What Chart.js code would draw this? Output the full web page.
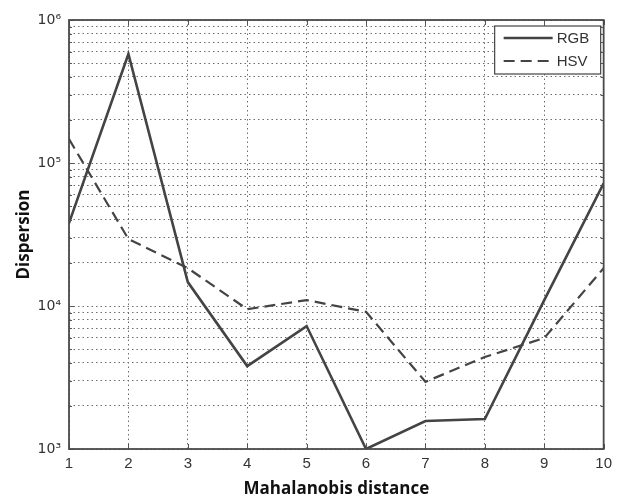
<!DOCTYPE html>
<html>
<head>
<meta charset="utf-8">
<script src="https://cdn.jsdelivr.net/npm/chart.js@4.4.1/dist/chart.umd.min.js"></script>
<style>
    body { margin: 0; background: #ffffff; }
    #wrap { width: 618px; height: 499px; position: relative; }
</style>
</head>
<body>
<div id="wrap"><canvas id="mychart"></canvas></div>
<script>
// data
let distance = [1, 2, 3, 4, 5, 6, 7, 8, 9, 10];
let rgbDispersion = [38000, 578000, 14700, 3800, 7240, 1000, 1570, 1620, 11000, 72000];
let hsvDispersion = [147000, 29400, 18400, 9500, 11000, 9100, 2950, 4400, 5970, 18400];
let yDecades = [3, 4, 5, 6];
let supDigits = { 3: '\u00b3', 4: '\u2074', 5: '\u2075', 6: '\u2076' };

function toPoints(values) {
    let pts = [];
    for (let i in distance) {
        pts.push({ x: distance[i], y: values[i] });
    }
    return pts;
}

// tick values for the log grid: 1..9 x 10^k
function logTicks() {
    let t = [];
    for (let k = yDecades[0]; k < yDecades[yDecades.length - 1]; k++) {
        for (let m = 1; m < 10; m++) {
            t.push({ value: m * Math.pow(10, k) });
        }
    }
    t.push({ value: Math.pow(10, yDecades[yDecades.length - 1]) });
    return t;
}

// box round the plot and the small inward ticks, like matlab
let boxPlugin = {
    id: 'box',
    afterDraw(chart) {
        let ctx = chart.ctx;
        let a = chart.chartArea;
        let xs = chart.scales.x;
        let ys = chart.scales.y;
        ctx.save();
        ctx.strokeStyle = '#555555';
        ctx.lineWidth = 1;
        ctx.beginPath();
        for (let t of xs.ticks) {
            let px = Math.round(xs.getPixelForValue(t.value)) + 0.5;
            ctx.moveTo(px, a.bottom); ctx.lineTo(px, a.bottom - 5);
            ctx.moveTo(px, a.top); ctx.lineTo(px, a.top + 5);
        }
        for (let t of ys.ticks) {
            let py = Math.round(ys.getPixelForValue(t.value)) + 0.5;
            let len = Number.isInteger(Math.log10(t.value)) ? 5 : 3;
            ctx.moveTo(a.left, py); ctx.lineTo(a.left + len, py);
            ctx.moveTo(a.right, py); ctx.lineTo(a.right - len, py);
        }
        ctx.stroke();
        ctx.lineWidth = 1.8;
        ctx.strokeStyle = '#4a4a4a';
        ctx.strokeRect(a.left, a.top, a.right - a.left, a.bottom - a.top);
        ctx.restore();
    }
};

// legend box in the top right corner
let legendPlugin = {
    id: 'cornerLegend',
    afterDraw(chart) {
        let ctx = chart.ctx;
        let a = chart.chartArea;
        let w = 106, h = 48;
        let x0 = a.right - w - 3, y0 = a.top + 6;
        ctx.save();
        ctx.fillStyle = '#ffffff';
        ctx.fillRect(x0, y0, w, h);
        ctx.strokeStyle = '#444444';
        ctx.lineWidth = 1.2;
        ctx.strokeRect(x0, y0, w, h);
        ctx.font = '15px "Liberation Sans", Arial, sans-serif';
        ctx.textBaseline = 'middle';
        chart.data.datasets.forEach(function (ds, i) {
            let y = y0 + 12 + i * 23;
            ctx.strokeStyle = ds.borderColor;
            ctx.lineWidth = ds.borderWidth;
            ctx.setLineDash(ds.borderDash || []);
            ctx.beginPath();
            ctx.moveTo(x0 + 9, y);
            ctx.lineTo(x0 + 58, y);
            ctx.stroke();
            ctx.setLineDash([]);
            ctx.fillStyle = '#333333';
            ctx.fillText(ds.label, x0 + 62, y + 1);
        });
        ctx.restore();
    }
};

let ctx = document.getElementById('mychart');
let myLineChart = new Chart(ctx, {
    type: 'line',
    data: {
        datasets: [{
            label: 'RGB',
            data: toPoints(rgbDispersion),
            borderColor: '#444444',
            borderWidth: 2.6,
            pointRadius: 0,
            fill: false,
            tension: 0
        }, {
            label: 'HSV',
            data: toPoints(hsvDispersion),
            borderColor: '#444444',
            borderWidth: 2.2,
            borderDash: [11, 6],
            pointRadius: 0,
            fill: false,
            tension: 0
        }]
    },
    options: {
        responsive: true,
        maintainAspectRatio: false,
        animation: false,
        layout: { padding: { left: 0, right: 12, top: 20, bottom: 0 } },
        plugins: {
            legend: { display: false },
            tooltip: { enabled: false }
        },
        scales: {
            x: {
                type: 'linear',
                min: distance[0],
                max: distance[distance.length - 1],
                afterFit: function (s) { s.height = 50; },
                ticks: {
                    stepSize: 1,
                    padding: 6,
                    autoSkip: false,
                    color: '#333333',
                    font: { family: '"Liberation Sans", Arial, sans-serif', size: 15 }
                },
                grid: { color: '#6e6e6e', lineWidth: 1, drawTicks: false },
                border: { display: false, dash: [1.5, 3] },
                title: {
                    display: true,
                    text: 'Mahalanobis distance',
                    color: '#111111',
                    padding: { top: 0, bottom: 0 },
                    font: { family: '"Open Sans", sans-serif', size: 17, weight: 'bold' }
                }
            },
            y: {
                type: 'logarithmic',
                min: Math.pow(10, yDecades[0]),
                max: Math.pow(10, yDecades[yDecades.length - 1]),
                afterFit: function (s) { s.width = 69; },
                afterBuildTicks: function (s) { s.ticks = logTicks(); },
                ticks: {
                    padding: 8,
                    autoSkip: false,
                    color: '#333333',
                    font: { family: '"DejaVu Sans", sans-serif', size: 14 },
                    callback: function (value) {
                        let e = Math.round(Math.log10(value));
                        if (Math.abs(Math.log10(value) - e) < 1e-9) {
                            return '10' + supDigits[e];
                        }
                        return '';
                    }
                },
                grid: { color: '#6e6e6e', lineWidth: 1, drawTicks: false },
                border: { display: false, dash: [1.5, 3] },
                title: {
                    display: true,
                    text: 'Dispersion',
                    color: '#111111',
                    padding: { top: 14, bottom: 0 },
                    font: { family: '"Open Sans", sans-serif', size: 17, weight: 'bold' }
                }
            }
        }
    },
    plugins: [boxPlugin, legendPlugin]
});
</script>
</body>
</html>
